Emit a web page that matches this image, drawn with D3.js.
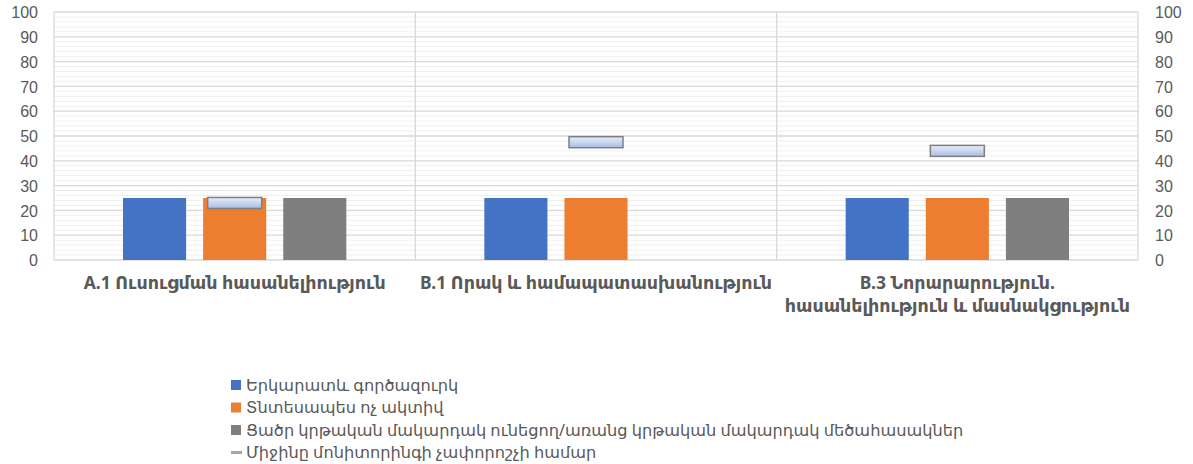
<!DOCTYPE html>
<html>
<head>
<meta charset="utf-8">
<script src="https://cdn.jsdelivr.net/npm/d3@7/dist/d3.min.js"></script>
<style>
  html, body { margin: 0; padding: 0; background: #fff; }
  svg { display: block; font-family: "Noto Sans", "DejaVu Sans", sans-serif; }
</style>
</head>
<body>
<svg id="chart" width="1193" height="464"></svg>
<script>
const categories = [
  ["A.1 Ուսուցման հասանելիություն"],
  ["B.1 Որակ և համապատասխանություն"],
  ["B.3 Նորարարություն.", "հասանելիություն և մասնակցություն"]
];
const seriesNames = [
  "Երկարատև գործազուրկ",
  "Տնտեսապես ոչ ակտիվ",
  "Ցածր կրթական մակարդակ ունեցող/առանց կրթական մակարդակ մեծահասակներ"
];
const longTermUnemployed = [25, 25, 25];
const economicallyInactive = [25, 25, 25];
const lowEducationAdults = [25, null, 25];
const monitoringAverageName = "Միջինը մոնիտորինգի չափորոշչի համար";
const monitoringAverage = [23, 47.5, 44];
const yTicks = [0, 10, 20, 30, 40, 50, 60, 70, 80, 90, 100];

const colors = ["#4472C4", "#ED7D31", "#7F7F7F"];
const seriesValues = [longTermUnemployed, economicallyInactive, lowEducationAdults];

const svg = d3.select("#chart");
const plot = { left: 54, right: 1138, top: 12, bottom: 260 };

const x = d3.scaleBand().domain(d3.range(categories.length))
  .range([plot.left, plot.right]).paddingInner(0).paddingOuter(0);
const xs = d3.scaleBand().domain(d3.range(seriesNames.length))
  .range([69, x.bandwidth() - 69]).paddingInner(17 / 80).paddingOuter(0);
const y = d3.scaleLinear().domain([0, 100]).range([plot.bottom, plot.top]);

// gradient for marker
const defs = svg.append("defs");
const grad = defs.append("linearGradient").attr("id", "mk").attr("x1", 0).attr("y1", 0).attr("x2", 0).attr("y2", 1);
grad.append("stop").attr("offset", "0%").attr("stop-color", "#e9eef8");
grad.append("stop").attr("offset", "100%").attr("stop-color", "#a8bde4");

// minor grid
const minor = d3.range(0, 101, 2).filter(v => v % 10 !== 0);
svg.append("g").selectAll("line").data(minor).join("line")
  .attr("x1", plot.left).attr("x2", plot.right)
  .attr("y1", d => y(d)).attr("y2", d => y(d))
  .attr("stroke", "#efefef").attr("stroke-width", 1);
// major grid
svg.append("g").selectAll("line").data(yTicks).join("line")
  .attr("x1", plot.left).attr("x2", plot.right)
  .attr("y1", d => y(d)).attr("y2", d => y(d))
  .attr("stroke", "#d9d9d9").attr("stroke-width", 1.3);
// vertical separators
const seps = d3.range(categories.length + 1).map(i => i < categories.length ? x(i) : plot.right);
svg.append("g").selectAll("line").data(seps).join("line")
  .attr("x1", d => d).attr("x2", d => d)
  .attr("y1", plot.top).attr("y2", plot.bottom)
  .attr("stroke", "#d9d9d9").attr("stroke-width", 1.3);

// bars
seriesValues.forEach((vals, si) => {
  svg.append("g").selectAll("rect")
    .data(vals.map((v, ci) => ({ v, ci })).filter(d => d.v != null))
    .join("rect")
    .attr("x", d => x(d.ci) + xs(si))
    .attr("width", xs.bandwidth())
    .attr("y", d => y(d.v))
    .attr("height", d => y(0) - y(d.v))
    .attr("fill", colors[si]);
});

// markers
svg.append("g").selectAll("rect").data(monitoringAverage).join("rect")
  .attr("x", (d, i) => x(i) + x.bandwidth() / 2 - 27)
  .attr("width", 54)
  .attr("y", d => y(d) - 5.5)
  .attr("height", 11)
  .attr("fill", "url(#mk)")
  .attr("stroke", "#7f7f7f").attr("stroke-width", 1.5);

// axes
const tickColor = "#595959";
const leftAxis = d3.axisLeft(y).tickValues(yTicks).tickSize(0).tickPadding(16);
const gl = svg.append("g").attr("transform", `translate(${plot.left},0)`).call(leftAxis);
gl.select(".domain").remove();
gl.selectAll("text").attr("fill", tickColor).style("font-size", "16px").attr("dy", "0.35em");

const rightAxis = d3.axisRight(y).tickValues(yTicks).tickSize(0).tickPadding(17);
const gr = svg.append("g").attr("transform", `translate(${plot.right},0)`).call(rightAxis);
gr.select(".domain").remove();
gr.selectAll("text").attr("fill", tickColor).style("font-size", "16px").attr("dy", "0.35em");

// category labels
const cl = svg.append("g");
categories.forEach((lines, i) => {
  const t = cl.append("text")
    .attr("x", x(i) + x.bandwidth() / 2)
    .attr("y", 289)
    .attr("text-anchor", "middle")
    .attr("fill", tickColor)
    .style("font-size", "17.5px")
    .style("font-weight", "bold");
  lines.forEach((ln, k) => {
    t.append("tspan").attr("x", x(i) + x.bandwidth() / 2).attr("dy", k === 0 ? 0 : 23).text(ln);
  });
});

// legend
const lg = svg.append("g").attr("transform", "translate(231,385)");
const legendItems = seriesNames.map((n, i) => ({ name: n, color: colors[i], type: "box" }))
  .concat([{ name: monitoringAverageName, color: "#a6a6a6", type: "line" }]);
legendItems.forEach((d, i) => {
  const gy = i * 22.5;
  if (d.type === "box") {
    lg.append("rect").attr("x", 0).attr("y", gy - 5).attr("width", 10).attr("height", 10).attr("fill", d.color);
  } else {
    lg.append("rect").attr("x", 0).attr("y", gy - 1.5).attr("width", 11).attr("height", 3).attr("fill", d.color);
  }
  lg.append("text").attr("x", 15).attr("y", gy).attr("dy", "0.35em")
    .attr("fill", tickColor).style("font-size", "16.2px").text(d.name);
});
</script>
</body>
</html>
